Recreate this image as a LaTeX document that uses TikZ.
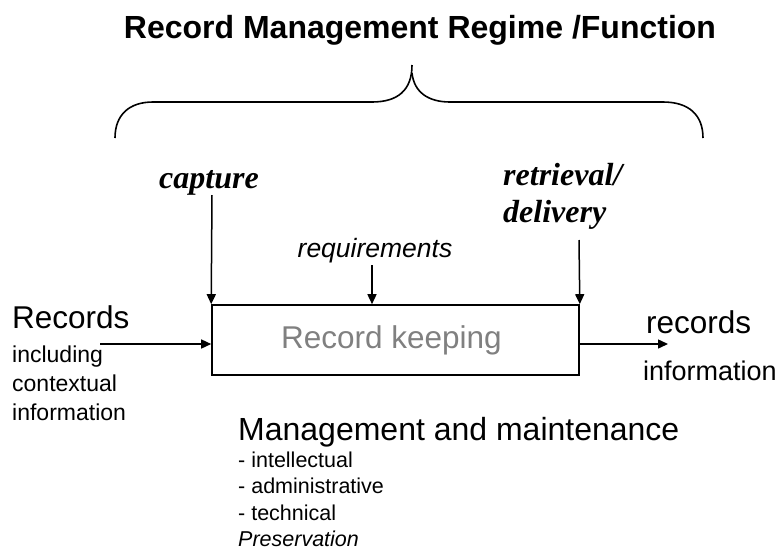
\documentclass[tikz,border=0pt]{standalone}
\usepackage{fontspec}
\setmainfont{Liberation Serif}
\setsansfont{Liberation Sans}
\usetikzlibrary{arrows.meta}
\begin{document}
\begin{tikzpicture}[x=1pt,y=-1pt,
  line/.style={line width=1.6pt},
  arr/.style={line width=1.5pt,-{Triangle[length=10pt,width=9pt]}},
  lbl/.style={inner sep=0pt,font=\sffamily},
  phase/.style={inner sep=0pt,font=\rmfamily\bfseries\itshape\fontsize{32}{37}\selectfont}]
\useasboundingbox (0,0) rectangle (780,555);

% title
\node[lbl,font=\sffamily\bfseries\fontsize{32}{36}\selectfont] (title) at (420,30) {Record Management Regime /Function};

% curly brace over the regime
\draw[line,line join=round] (115,138) .. controls (115,115) and (129,102) .. (153,102)
  -- (372,102) .. controls (398,102) and (412,90) .. (412,65);
\draw[line,line join=round] (412,73) .. controls (414,92) and (428,102) .. (450,102)
  -- (663,102) .. controls (689,102) and (703,115) .. (703,138);

% process box
\node[draw,line width=1.6pt,minimum width=367pt,minimum height=70pt,inner sep=0pt,
  text=gray,font=\sffamily\fontsize{31.5}{36}\selectfont] (keep) at (395.5,340) {\hspace*{-8pt}Record keeping};

% phase labels and control arrows (multi-line nodes are placed by their last baseline)
\node[phase] (capture) at (209,183) {capture};
\node[phase,align=left,anchor=base west] (retrieval) at (503,222) {retrieval/\\delivery};
\node[lbl,font=\sffamily\itshape\fontsize{26.5}{30}\selectfont] (req) at (375,251) {requirements};

\coordinate (capTop) at (212,195);
\coordinate (reqTop) at (372,265);
\coordinate (retTop) at (579,240);
\draw[arr] (capTop) -- (keep.north west);
\draw[arr] (reqTop) -- (reqTop |- keep.north);
\draw[arr] (retTop) -- (keep.north east);

% input
\node[lbl,anchor=base west,font=\sffamily\fontsize{31.5}{36}\selectfont] (recin) at (12,328) {Records};
\node[lbl,anchor=base west,align=left,font=\sffamily\fontsize{23}{29}\selectfont] (incl) at (12,420) {including\\contextual\\information};
\coordinate (inStart) at (100,344);
\draw[arr] (inStart) -- (inStart -| keep.west);

% output
\coordinate (outEnd) at (668,344);
\draw[arr] (outEnd -| keep.east) -- (outEnd);
\node[lbl,anchor=base west,font=\sffamily\fontsize{31.5}{36}\selectfont] (recout) at (646,333) {records};
\node[lbl,anchor=base west,font=\sffamily\fontsize{27}{30}\selectfont] (infout) at (643,380) {information};

% management text
\node[lbl,anchor=base west,font=\sffamily\fontsize{32}{36}\selectfont] (mgmt) at (238,440) {Management and maintenance};
\node[lbl,anchor=base west,align=left,font=\sffamily\fontsize{21.5}{26.5}\selectfont] (aspects) at (238,546.5)
  {- intellectual\\- administrative\\- technical\\\textit{Preservation}};
\end{tikzpicture}
\end{document}
